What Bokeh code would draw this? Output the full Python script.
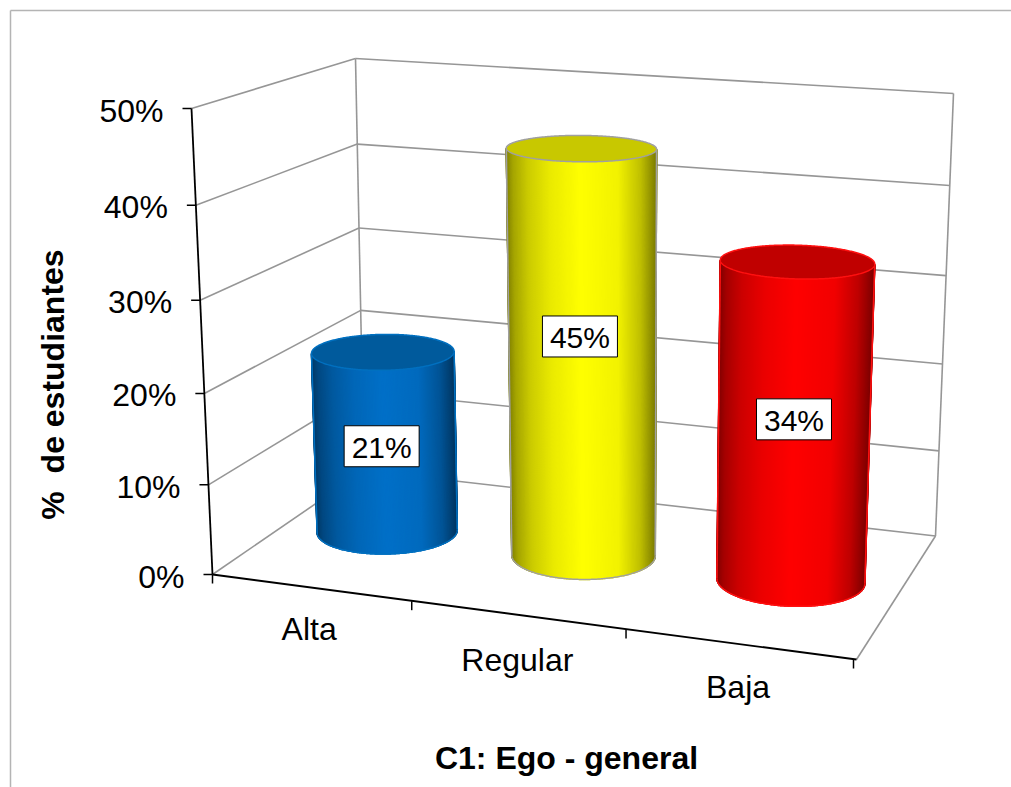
import numpy as np
from bokeh.plotting import figure
from bokeh.models import Range1d
from bokeh.core.properties import value
from bokeh.embed import file_html
from bokeh.resources import INLINE

categories = ["Alta", "Regular", "Baja"]
values = [21, 45, 34]
labels = ["21%", "45%", "34%"]
y_ticks = [0, 10, 20, 30, 40, 50]
y_tick_labels = ["0%", "10%", "20%", "30%", "40%", "50%"]
bar_colors = [(0, 112, 200), (255, 255, 0), (255, 0, 0)]
cap_colors = ["#005a9c", "#c8c800", "#c00000"]
edge_colors = ["#0070c0", "#a0a0a0", "#ff1010"]
x_title = "C1: Ego - general"
y_title = "%\u00a0\u00a0de estudiantes"

FONT = value("Liberation Sans")
GRID = "#969696"
VMAX = 50.0
PERSP = 1.049

# box corners in picture pixels: front-left, front-right, back-right, back-left
FLOOR = [(212, 574), (856, 659), (935, 535.5), (363.5, 470)]
CEIL = [(191, 108), (872, 155), (953, 93), (355, 58)]


def homography(c):
    A, b = [], []
    for (u, d), (x, y) in zip([(0, 0), (1, 0), (1, 1), (0, 1)], c):
        A.append([u, d, 1, 0, 0, 0, -u * x, -d * x]); b.append(x)
        A.append([0, 0, 0, u, d, 1, -u * y, -d * y]); b.append(y)
    return np.append(np.linalg.solve(np.array(A, float), np.array(b, float)), 1).reshape(3, 3)


H0, H1 = homography(FLOOR), homography(CEIL)


def warp(H, u, d):
    q = H @ np.array([u, d, 1.0])
    return q[:2] / q[2]


def P(u, d, v):
    t = v / VMAX
    s = t / (t + (1 - t) * PERSP)
    return warp(H0, u, d) * (1 - s) + warp(H1, u, d) * s


p = figure(width=1011, height=787, x_range=Range1d(0, 1011), y_range=Range1d(787, 0),
           output_backend="svg", toolbar_location=None, min_border=0)
p.axis.visible = False
p.grid.visible = False
p.outline_line_color = None
p.background_fill_color = "white"


def seg(a, b, color=GRID, w=1.6):
    p.line([a[0], b[0]], [a[1], b[1]], line_color=color, line_width=w)


# outer frame
seg((10, 787), (10, 10), "#b4b4b4", 1.5)
seg((10, 10), (1011, 10), "#b4b4b4", 1.5)

# walls
for v in y_ticks:
    seg(P(0, 0, v), P(0, 1, v))
    seg(P(0, 1, v), P(1, 1, v))
seg(P(0, 1, 0), P(0, 1, VMAX))
seg(P(1, 1, 0), P(1, 1, VMAX))
seg(P(1, 0, 0), P(1, 1, 0))

# axes
seg(P(0, 0, 0), P(0, 0, VMAX), "black", 1.8)
seg(P(0, 0, 0), P(1, 0, 0), "black", 1.8)
for v, lab in zip(y_ticks, y_tick_labels):
    a = P(0, 0, v)
    seg(a, a - np.array([9, 0]), "black", 1.5)
    p.text([a[0] - 28], [a[1] + 2], text=[lab], text_font=FONT, text_font_size="32px",
           text_align="right", text_baseline="middle", text_color="black")
for i in range(len(categories) + 1):
    a = P(i / len(categories), 0, 0) - np.array([3 if i else 0, 0])
    seg(a, a + np.array([0, 9]), "black", 1.5)

# cylinders
RU, RD = 0.112, 0.2
SX = [0, .05, .15, .3, .5, .75, .9, 1]
SV = [.5, .65, .8, .92, 1, .95, .75, .5]
label_dx = [-3.5, -2.5, 0]
label_dy = [6, -15, -5]
top_dy = [2, 0, -7]
cat_dy = [41, 45, 43]
n = len(categories)
for i, val in enumerate(values):
    uc = (i + .5) / n
    th = np.linspace(0, 2 * np.pi, 361)[:-1]
    def ring(v):
        return np.array([P(uc + RU * np.cos(t), .5 + RD * np.sin(t), v) for t in th])
    base, top = ring(0), ring(val) + np.array([0, top_dy[i]])
    axis = P(uc, .5, val) - P(uc, .5, 0)
    normal = np.array([-axis[1], axis[0]]) / np.hypot(*axis)
    if normal[0] < 0:
        normal = -normal
    pos = (base - base.mean(axis=0)) @ normal
    iR, iL = int(np.argmax(pos)), int(np.argmin(pos))
    m = len(th)
    arc1 = [(iL + k) % m for k in range((iR - iL) % m + 1)]
    arc2 = [(iL - k) % m for k in range((iL - iR) % m + 1)]
    arc = arc1 if base[arc1, 1].mean() > base[arc2, 1].mean() else arc2
    lo, hi = pos[iL], pos[iR]
    xs, ys, cols = [], [], []
    for a, b in zip(arc[:-1], arc[1:]):
        f = ((pos[a] + pos[b]) / 2 - lo) / (hi - lo)
        k = float(np.interp(f, SX, SV))
        r, g, bl = [int(c * k) for c in bar_colors[i]]
        xs.append([base[a, 0], base[b, 0], top[b, 0], top[a, 0]])
        ys.append([base[a, 1], base[b, 1], top[b, 1], top[a, 1]])
        cols.append(f"#{r:02x}{g:02x}{bl:02x}")
    p.patches(xs, ys, fill_color=cols, line_color=cols, line_width=1.5)
    ec = edge_colors[i]
    p.line(base[arc, 0], base[arc, 1], line_color=ec, line_width=1.5)
    seg(base[iL], top[iL], ec)
    seg(base[iR], top[iR], ec)
    p.patch(top[:, 0], top[:, 1], fill_color=cap_colors[i], line_color=ec, line_width=1.5)

    c = (P(uc, .5, 0) + P(uc, .5, val)) / 2
    cx, cy = c[0] + label_dx[i], c[1] + label_dy[i]
    p.rect([cx], [cy], width=75, height=41, fill_color="white", line_color="black", line_width=1)
    p.text([cx], [cy + 1], text=[labels[i]], text_font=FONT, text_font_size="30px",
           text_align="center", text_baseline="middle", text_color="black")

    t = P(uc, 0, 0)
    p.text([t[0] - 3], [t[1] + cat_dy[i]], text=[categories[i]], text_font=FONT, text_font_size="32px",
           text_align="center", text_baseline="middle", text_color="black")

# titles
p.text([566], [757], text=[x_title], text_font=FONT, text_font_size="32px", text_font_style=value("bold"),
       text_align="center", text_baseline="middle", text_color="black")
p.text([52], [384], text=[y_title], text_font=FONT, text_font_size="32px", text_font_style=value("bold"),
       text_align="center", text_baseline="middle", text_color="black", angle=[np.pi / 2])

open("out.html", "w").write(file_html(p, INLINE))
